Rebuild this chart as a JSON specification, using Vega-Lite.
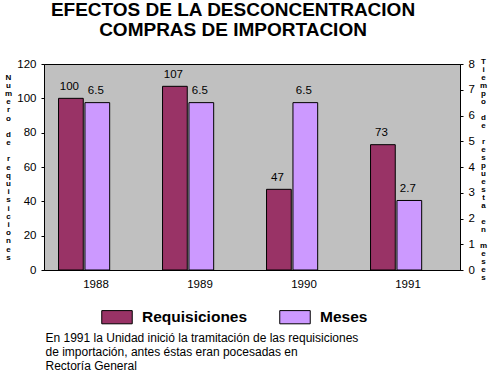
{
  "$schema": "https://vega.github.io/schema/vega-lite/v6.json",
  "width": 416,
  "height": 206,
  "autosize": {"type": "none"},
  "padding": {"left": 44, "top": 64, "right": 32, "bottom": 119},
  "background": "white",
  "config": {
    "font": "Liberation Sans",
    "view": {"fill": "#c0c0c0", "stroke": "#000000", "strokeWidth": 1},
    "axis": {"grid": false, "domainColor": "#000000", "tickColor": "#000000", "labelColor": "#000000", "labelFont": "Liberation Sans", "labelFontSize": 11.5, "titleColor": "#000000", "labelOverlap": false}
  },
  "title": {
    "text": ["EFECTOS DE LA DESCONCENTRACION", "COMPRAS DE IMPORTACION"],
    "font": "Liberation Sans",
    "fontSize": 19,
    "fontWeight": "bold",
    "lineHeight": 20,
    "color": "#000000",
    "anchor": "middle",
    "frame": "group",
    "dx": -19,
    "offset": 17
  },
  "data": {
    "values": [
      {"year": "1988", "series": "Requisiciones", "value": 100},
      {"year": "1988", "series": "Meses", "value": 6.5},
      {"year": "1989", "series": "Requisiciones", "value": 107},
      {"year": "1989", "series": "Meses", "value": 6.5},
      {"year": "1990", "series": "Requisiciones", "value": 47},
      {"year": "1990", "series": "Meses", "value": 6.5},
      {"year": "1991", "series": "Requisiciones", "value": 73},
      {"year": "1991", "series": "Meses", "value": 2.7}
    ]
  },
  "encoding": {
    "x": {
      "field": "year",
      "type": "nominal",
      "scale": {"paddingInner": 0, "paddingOuter": 0},
      "axis": {
        "labelAngle": 0,
        "ticks": false,
        "labelPadding": 8,
        "title": ["En 1991 la Unidad inició la tramitación de las requisiciones", "de importación, antes éstas eran pocesadas en", "Rectoría General"],
        "titleFont": "Liberation Sans",
        "titleFontSize": 12,
        "titleFontWeight": "normal",
        "titleLineHeight": 14,
        "titleAnchor": "start",
        "titleAlign": "left",
        "titleBaseline": "top",
        "titleX": 1,
        "titleY": 62
      }
    },
    "xOffset": {
      "field": "series",
      "type": "nominal",
      "scale": {"domain": ["Requisiciones", "Meses"], "paddingInner": 0.064, "paddingOuter": 1.112, "align": 0.275}
    }
  },
  "layer": [
    {
      "transform": [{"filter": "datum.series === 'Requisiciones'"}],
      "encoding": {
        "y": {
          "field": "value",
          "type": "quantitative",
          "scale": {"domain": [0, 120]},
          "axis": {
            "orient": "left",
            "values": [0, 20, 40, 60, 80, 100, 120],
            "tickSize": 3,
            "labelPadding": 5,
            "labelOverlap": false,
            "title": ["N", "u", "m", "e", "r", "o", "\u200b", "d", "e", "\u200b", "r", "e", "q", "u", "i", "s", "i", "c", "i", "o", "n", "e", "s"],
            "titleAngle": 0,
            "titleFont": "Liberation Sans",
            "titleFontSize": 8,
            "titleFontWeight": "bold",
            "titleLineHeight": 8.2,
            "titleAlign": "center",
            "titleBaseline": "top",
            "titleX": -36,
            "titleY": 9
          }
        }
      },
      "layer": [
        {
          "mark": {"type": "bar", "stroke": "#000000", "strokeWidth": 1},
          "encoding": {
            "color": {
              "field": "series",
              "type": "nominal",
              "scale": {"domain": ["Requisiciones", "Meses"], "range": ["#993366", "#cc99ff"]},
              "legend": {
                "orient": "none",
                "legendX": 57,
                "legendY": 237,
                "direction": "horizontal",
                "title": null,
                "padding": 0,
                "labelFont": "Liberation Sans",
                "labelFontSize": 15.5,
                "labelFontWeight": "bold",
                "labelColor": "#000000",
                "labelOffset": 9,
                "columnPadding": 29,
                "symbolType": "M-1,-0.433H1V0.433H-1Z",
                "symbolSize": 930,
                "symbolStrokeColor": "#000000",
                "symbolStrokeWidth": 1,
                "symbolOpacity": 1
              }
            }
          }
        },
        {
          "mark": {"type": "text", "baseline": "alphabetic", "dy": -8.5, "dx": -1.5, "fontSize": 11.5, "color": "#000000"},
          "encoding": {
            "text": {"field": "value", "type": "quantitative"}
          }
        }
      ]
    },
    {
      "transform": [{"filter": "datum.series === 'Meses'"}],
      "encoding": {
        "y": {
          "field": "value",
          "type": "quantitative",
          "scale": {"domain": [0, 8]},
          "axis": {
            "orient": "right",
            "values": [0, 1, 2, 3, 4, 5, 6, 7, 8],
            "tickSize": 3,
            "labelPadding": 5,
            "labelOverlap": false,
            "title": ["T", "i", "e", "m", "p", "o", "\u200b", "d", "e", "\u200b", "r", "e", "s", "p", "u", "e", "s", "t", "a", "\u200b", "e", "n", "\u200b", "m", "e", "s", "e", "s"],
            "titleAngle": 0,
            "titleFont": "Liberation Sans",
            "titleFontSize": 8,
            "titleFontWeight": "bold",
            "titleLineHeight": 8,
            "titleAlign": "center",
            "titleBaseline": "top",
            "titleX": 23,
            "titleY": -7
          }
        }
      },
      "layer": [
        {
          "mark": {"type": "bar", "stroke": "#000000", "strokeWidth": 1},
          "encoding": {
            "color": {"field": "series", "type": "nominal"}
          }
        },
        {
          "mark": {"type": "text", "baseline": "alphabetic", "dy": -8.5, "dx": -1.5, "fontSize": 11.5, "color": "#000000"},
          "encoding": {
            "text": {"field": "value", "type": "quantitative"}
          }
        }
      ]
    }
  ],
  "resolve": {"scale": {"y": "independent"}}
}
